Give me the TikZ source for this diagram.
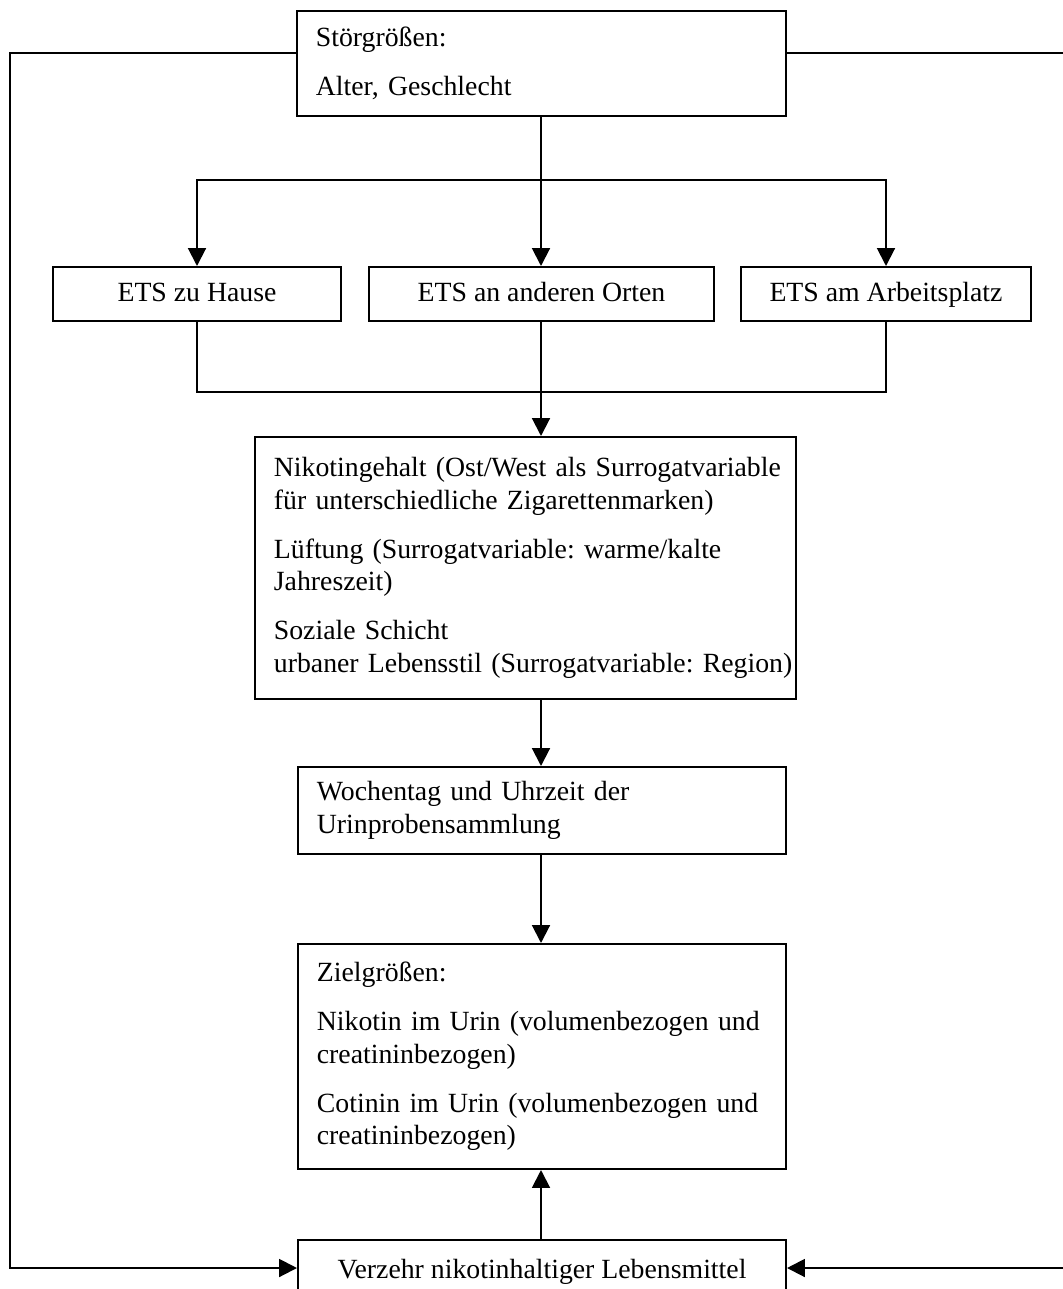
\documentclass[tikz,border=0pt]{standalone}
\usepackage{fontspec}
\setmainfont{Liberation Serif}
\usetikzlibrary{arrows.meta,positioning}
\frenchspacing

\tikzset{
  kasten/.style={draw, line width=0.9pt, anchor=north west, align=left,
    inner xsep=8.5pt, inner ysep=0pt},
  ets/.style={draw, line width=0.9pt, anchor=north west, align=center,
    text height=9pt, text depth=2.5pt, inner sep=0pt},
  linie/.style={line width=0.9pt},
  pfeil/.style={line width=0.9pt, -{Triangle[length=8pt,width=8pt]}},
}
\newcommand{\absatz}{\\[7.5pt]}

\begin{document}
\begin{tikzpicture}[x=0.45pt,y=-0.45pt,font=\fontsize{12.5}{14.6}\selectfont]
  \useasboundingbox (0,0) rectangle (1063,1289);

  % Kaesten
  \node[kasten, minimum width=220pt, minimum height=47.25pt, text width=203pt] (stoer) at (296,10)
    {Störgrößen:\absatz Alter, Geschlecht};
  \node[ets, minimum width=129.6pt, minimum height=24.3pt] (haus) at (52,266) {ETS zu Hause};
  \node[ets, minimum width=155.25pt, minimum height=24.3pt] (orte) at (368,266) {ETS an anderen Orten};
  \node[ets, minimum width=130.5pt, minimum height=24.3pt] (arbeit) at (740,266) {ETS am Arbeitsplatz};
  \node[kasten, minimum width=243.5pt, minimum height=117.9pt, text width=226.5pt] (nikotin) at (254,436)
    {\mbox{Nikotingehalt (Ost/West als Surrogatvariable}\\
     für unterschiedliche Zigarettenmarken)\absatz
     Lüftung (Surrogatvariable: warme/kalte\\
     Jahreszeit)\absatz
     Soziale Schicht\\
     \mbox{urbaner Lebensstil (Surrogatvariable: Region)}};
  \node[kasten, minimum width=219.6pt, minimum height=39.15pt, text width=202.6pt] (woche) at (297,766)
    {Wochentag und Uhrzeit der\\ Urinprobensammlung};
  \node[kasten, minimum width=219.6pt, minimum height=101.25pt, text width=202.6pt] (ziel) at (297,943)
    {Zielgrößen:\absatz
     Nikotin im Urin (volumenbezogen und\\ creatininbezogen)\absatz
     Cotinin im Urin (volumenbezogen und\\ creatininbezogen)};
  \node[ets, minimum width=219.6pt, minimum height=28pt] (verzehr) at (297,1239)
    {Verzehr nikotinhaltiger Lebensmittel};

  % Hilfspunkte
  \coordinate (verteil) at (541,180);
  \coordinate (sammel) at (541,392);
  \coordinate (links) at (10,53);
  \coordinate (rechts) at (1068,53);
  \coordinate (unten) at (541,1268);

  % Verbindungen
  \draw[pfeil] (stoer.south -| verteil) -- (orte.north -| verteil);
  \draw[pfeil] (verteil) -| (haus.north);
  \draw[pfeil] (verteil) -| (arbeit.north);
  \draw[linie] (haus.south) |- (sammel) -| (arbeit.south);
  \draw[pfeil] (orte.south -| sammel) -- (nikotin.north -| sammel);
  \draw[pfeil] (nikotin.south -| sammel) -- (woche.north -| sammel);
  \draw[pfeil] (woche.south -| sammel) -- (ziel.north -| sammel);
  \draw[pfeil] (verzehr.north -| sammel) -- (ziel.south -| sammel);
  \draw[pfeil] (stoer.west |- links) -- (links) |- (verzehr.west |- unten);
  \draw[pfeil] (stoer.east |- rechts) -- (rechts) |- (verzehr.east |- unten);
\end{tikzpicture}
\end{document}
